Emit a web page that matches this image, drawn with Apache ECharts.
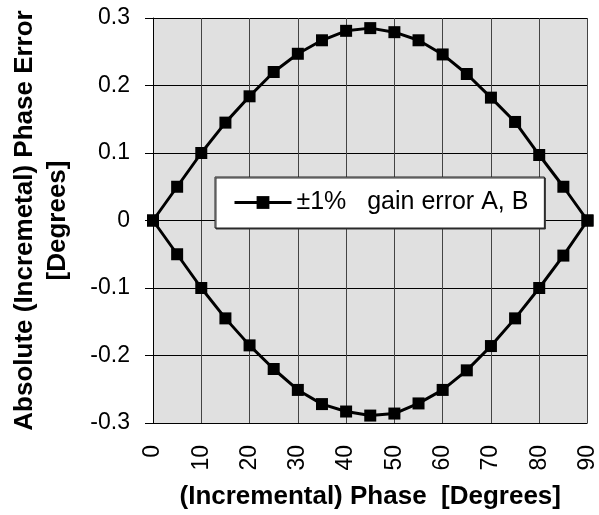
<!DOCTYPE html>
<html>
<head>
<meta charset="utf-8">
<script src="https://cdn.jsdelivr.net/npm/echarts@6/dist/echarts.min.js"></script>
<style>html,body{margin:0;padding:0;background:#fff;}#c{width:599px;height:515px;}</style>
</head>
<body>
<div id="c"></div>
<script>
const phase = [0, 5, 10, 15, 20, 25, 30, 35, 40, 45, 50, 55, 60, 65, 70, 75, 80, 85, 90];
const upperError = [0, 0.05, 0.1, 0.145, 0.184, 0.22, 0.247, 0.267, 0.281, 0.285, 0.279, 0.267, 0.246, 0.217, 0.182, 0.146, 0.097, 0.05, 0];
const lowerError = [0, -0.05, -0.1, -0.145, -0.185, -0.22, -0.251, -0.272, -0.283, -0.289, -0.286, -0.271, -0.251, -0.222, -0.186, -0.145, -0.1, -0.052, 0];
const seriesName = '±1%   gain error A, B';
const xTitle = '(Incremental) Phase  [Degrees]';
const yTitle = 'Absolute (Incremetal) Phase Error\n[Degrees]';

const font = 'Liberation Sans, Arial, sans-serif';
const chart = echarts.init(document.getElementById('c'), null, {renderer: 'canvas'});
const mk = (vals) => phase.map((p, i) => [p, vals[i]]);
const lineSeries = (vals) => ({
  name: seriesName,
  type: 'line',
  data: mk(vals),
  symbol: 'rect',
  symbolSize: 12,
  color: '#000',
  itemStyle: {color: '#000'},
  lineStyle: {color: '#000', width: 3},
  animation: false
});
chart.setOption({
  animation: false,
  grid: {left: 151, right: 7, top: 18, bottom: 92, show: true, backgroundColor: '#e0e0e0', borderWidth: 0},
  legend: {
    show: true,
    left: 215, top: 177,
    orient: 'horizontal',
    itemWidth: 57, itemHeight: 16,
    padding: [13, 16, 13, 18],
    backgroundColor: '#fff',
    borderColor: '#222', borderWidth: 1,
    shadowColor: '#333', shadowOffsetX: 1, shadowOffsetY: 1, shadowBlur: 0,
    lineStyle: {width: 3, color: '#000'},
    textStyle: {fontFamily: font, fontSize: 25, color: '#000'},
    data: [seriesName]
  },
  xAxis: {
    type: 'value', min: 0, max: 90, interval: 10,
    name: xTitle, nameLocation: 'middle', nameGap: 61,
    nameTextStyle: {fontFamily: font, fontSize: 26, fontWeight: 'bold', color: '#000'},
    axisLine: {show: true, lineStyle: {color: '#000', width: 1}},
    axisTick: {show: false},
    axisLabel: {rotate: 90, margin: 22, fontFamily: font, fontSize: 23, color: '#000'},
    splitLine: {show: true, lineStyle: {color: '#444', width: 1}}
  },
  yAxis: {
    type: 'value', min: -0.3, max: 0.3, interval: 0.1,
    name: yTitle, nameLocation: 'middle', nameGap: 79, nameRotate: 90,
    nameTextStyle: {fontFamily: font, fontSize: 26, fontWeight: 'bold', color: '#000', lineHeight: 33},
    axisLine: {show: true, onZero: false, lineStyle: {color: '#000', width: 1}},
    axisTick: {show: true, inside: false, length: 8, lineStyle: {color: '#000'}},
    axisLabel: {margin: 23, fontFamily: font, fontSize: 23, color: '#000'},
    splitLine: {show: true, lineStyle: {color: '#000', width: 1}}
  },
  series: [lineSeries(upperError), lineSeries(lowerError)]
});
</script>
</body>
</html>
